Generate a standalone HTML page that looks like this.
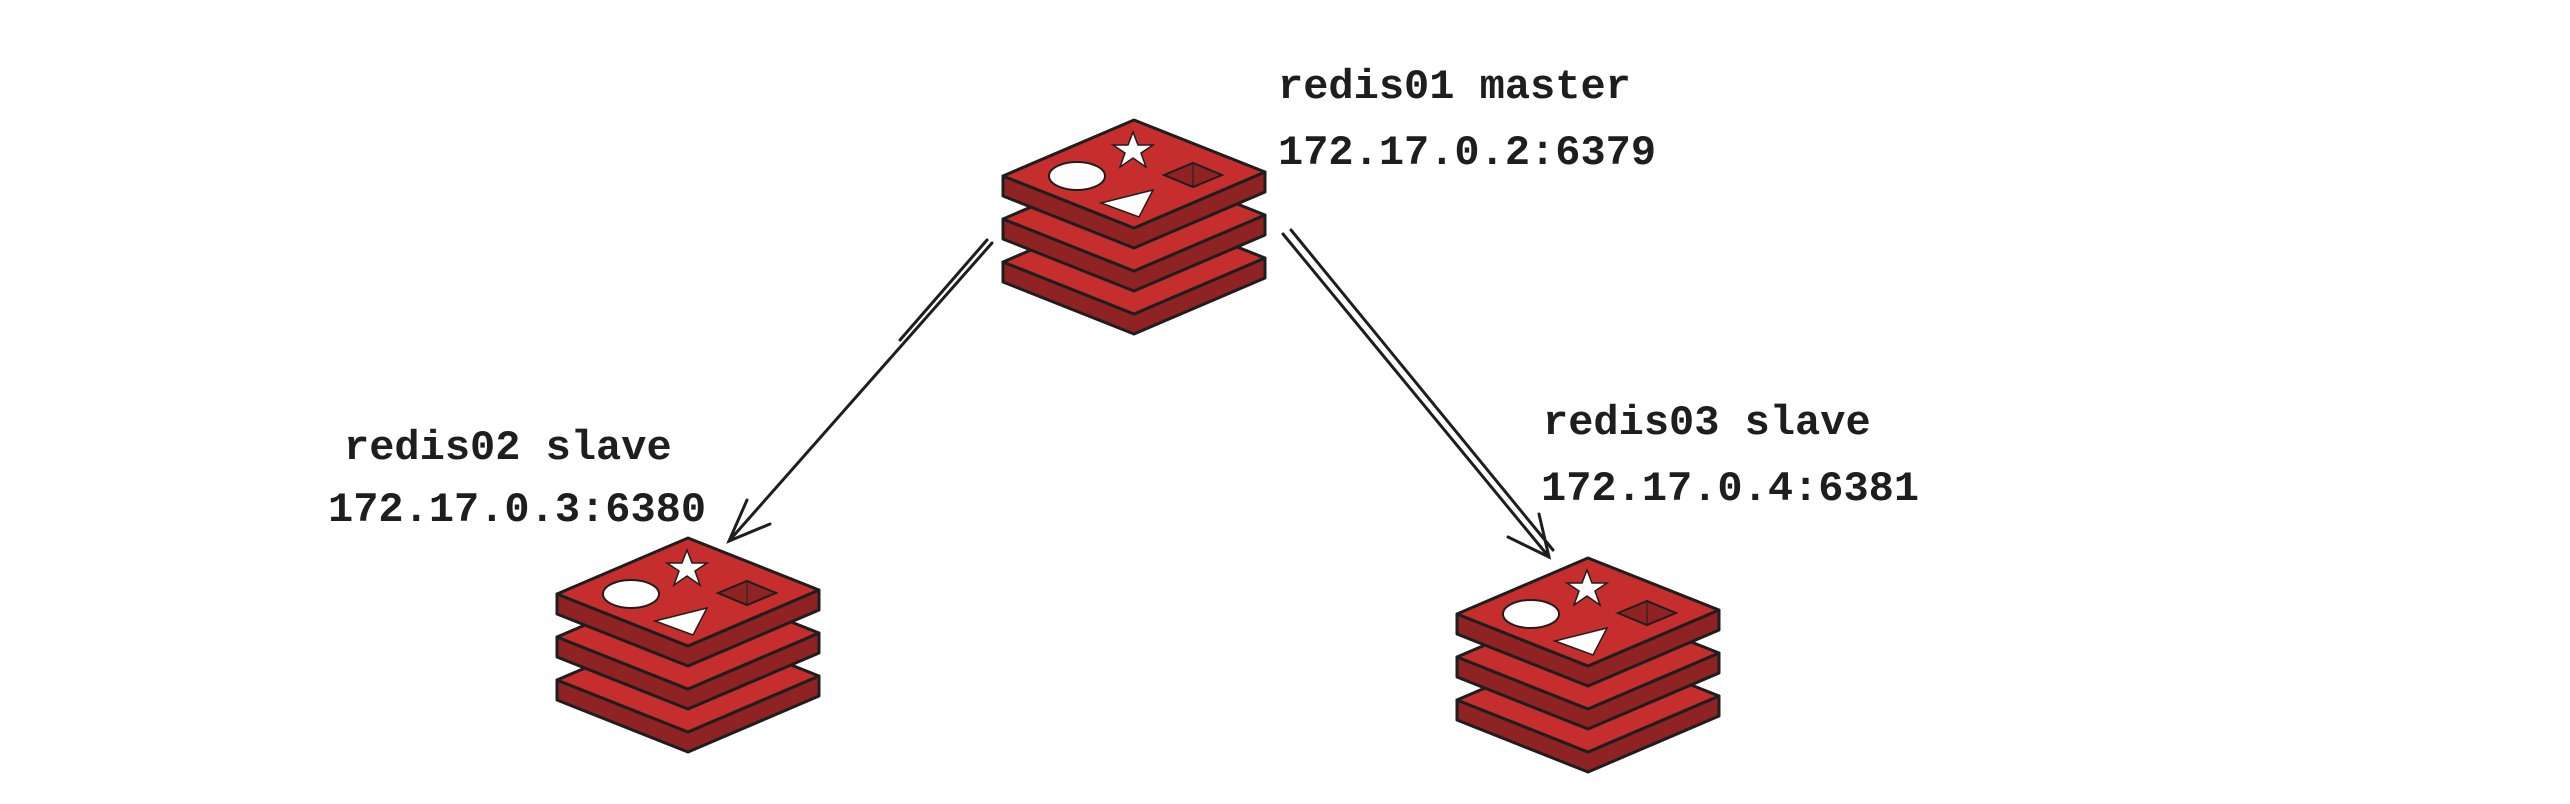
<!DOCTYPE html>
<html><head><meta charset="utf-8"><style>
html,body{margin:0;padding:0;background:#fff;}
svg{display:block;}
text{font-family:"Liberation Mono",monospace;font-size:42px;font-weight:bold;fill:#1e1e1e;}
</style></head><body>
<svg width="2570" height="804" viewBox="0 0 2570 804" xmlns="http://www.w3.org/2000/svg">
<defs>
<g id="layer" stroke="#1e1e1e" stroke-width="3" stroke-linejoin="round">
  <polygon points="0,56 131,108 262,52 262,72 131,128 0,76" fill="#8f2323"/>
  <polygon points="131,0 262,52 131,108 0,56" fill="#c62d2d"/>
</g>
<g id="icon">
  <use href="#layer" transform="translate(0,86)"/>
  <use href="#layer" transform="translate(0,43)"/>
  <use href="#layer"/>
  <ellipse cx="74" cy="56" rx="28" ry="14" fill="#fff" stroke="#1e1e1e" stroke-width="2"/>
  <polygon points="130,12 135,25 150,25 138,33 143,47 130,38 117,47 122,33 110,25 125,25" fill="#fff" stroke="#1e1e1e" stroke-width="1.5"/>
  <polygon points="98,83 150,70 136,97" fill="#fff" stroke="#1e1e1e" stroke-width="1.5"/>
  <polygon points="161,55 190,43 219,55 190,67" fill="#8f2323" stroke="#1e1e1e" stroke-width="2"/>
  <line x1="190" y1="43" x2="190" y2="67" stroke="#1e1e1e" stroke-width="1"/>
</g>
</defs>
<use href="#icon" transform="translate(1003,120)"/>
<use href="#icon" transform="translate(557,538)"/>
<use href="#icon" transform="translate(1457,558)"/>

<text x="1278" y="98">redis01 master</text>
<text x="1278" y="164">172.17.0.2:6379</text>
<text x="344" y="459">redis02 slave</text>
<text x="328" y="521">172.17.0.3:6380</text>
<text x="1543" y="434">redis03 slave</text>
<text x="1541" y="500">172.17.0.4:6381</text>

<g stroke="#1e1e1e" stroke-width="3" fill="none" stroke-linecap="round">
  <line x1="992" y1="243" x2="729" y2="541"/>
  <line x1="987" y1="240" x2="900" y2="340"/>
  <polyline points="747,500 729,541 770,524"/>
  <line x1="1283" y1="234" x2="1549" y2="557"/>
  <line x1="1291" y1="230" x2="1553" y2="550"/>
  <polyline points="1508,537 1549,557 1539,514"/>
</g>
</svg>
</body></html>
